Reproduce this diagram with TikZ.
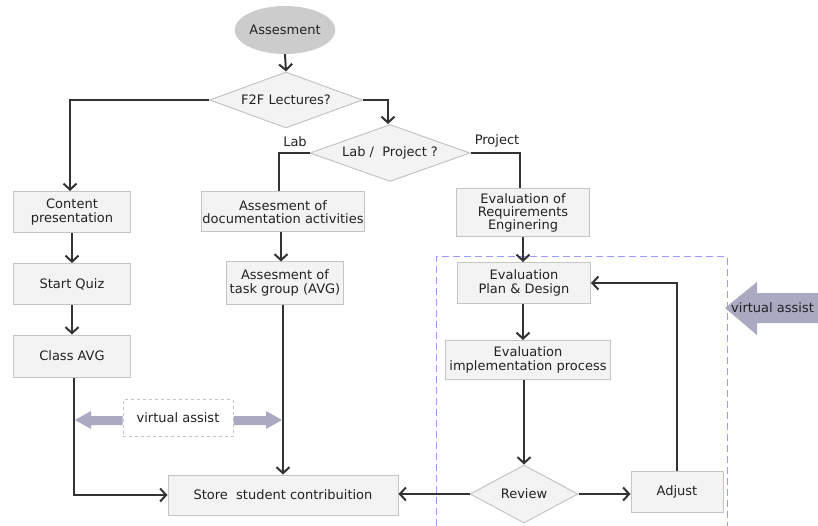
\documentclass[tikz,border=0pt]{standalone}
\usepackage{fontspec}
\setmainfont{DejaVu Sans}
\usetikzlibrary{shapes.geometric,arrows.meta,calc}
\definecolor{boxfill}{HTML}{F3F3F3}
\definecolor{boxline}{HTML}{C4C4C4}
\definecolor{lin}{HTML}{333333}
\definecolor{txt}{HTML}{222222}
\definecolor{vacol}{HTML}{A9A9C2}
\definecolor{dashblue}{HTML}{9A9AFF}
\definecolor{ellfill}{HTML}{CCCCCC}
\begin{document}
\begin{tikzpicture}[x=1pt,y=-1pt,
  font=\fontsize{13}{13.3}\selectfont, text=txt,
  box/.style={draw=boxline, fill=boxfill, line width=1pt, align=center, inner sep=0pt},
  dia/.style={diamond, draw=boxline, fill=boxfill, line width=1pt, align=center, inner sep=0pt},
  conn/.style={draw=lin, line width=2pt, -{Straight Barb[length=6pt,width=13pt]}},
  plain/.style={draw=lin, line width=2pt},
  lbl/.style={inner sep=0pt}
]
\useasboundingbox (0,0) rectangle (818,526);
\fill[white] (0,0) rectangle (818,526);

% dashed region
\draw[dashblue, line width=1pt, dash pattern=on 7pt off 4pt] (436,526) -- (436,257) -- (727,257) -- (727,526);

% nodes
\node[ellipse, fill=ellfill, minimum width=96pt, minimum height=48pt, inner sep=0pt] (ass) at (285,30) {Assesment};
\node[dia, aspect=2.8, minimum width=153pt, minimum height=56pt] (f2f) at (286,100) {F2F Lectures?};
\node[dia, aspect=2.8, minimum width=160pt, minimum height=57pt] (lp) at (390,153) {Lab /\ \ Project ?};
\node[lbl] (lablbl) at (295,142) {Lab};
\node[lbl] (projlbl) at (497,141) {Project};

\node[box, minimum width=117pt, minimum height=41pt] (content) at (72,212) {Content\\presentation};
\node[box, minimum width=117pt, minimum height=41pt] (quiz) at (72,284) {Start Quiz};
\node[box, minimum width=117pt, minimum height=42pt] (class) at (72,356) {Class AVG};

\node[box, minimum width=163pt, minimum height=40pt] (doc) at (283,212) {Assesment of\\documentation activities};
\node[box, minimum width=117pt, minimum height=42pt] (task) at (285,283) {Assesment of\\task group (AVG)};

\node[box, minimum width=133pt, minimum height=48pt] (req) at (523,213) {Evaluation of\\Requirements\\Enginering};
\node[box, minimum width=133pt, minimum height=41pt] (plan) at (524,283) {Evaluation\\Plan \& Design};
\node[box, minimum width=165pt, minimum height=39pt] (impl) at (528,360) {Evaluation\\implementation process};
\node[dia, aspect=1.9, minimum width=108pt, minimum height=58pt] (review) at (524,494) {Review};
\node[box, minimum width=92pt, minimum height=41pt] (adjust) at (677,492) {Adjust};
\node[box, minimum width=230pt, minimum height=40pt] (store) at (283,495) {Store\ \ student contribuition};

\node[draw=boxline, dashed, line width=1pt, minimum width=110pt, minimum height=37pt, inner sep=0pt] (va) at (178,418) {virtual assist};

% thick lavender arrows of the dashed box
\fill[vacol] (va.west |- 0,416) -- (91,416) -- (91,411) -- (75,420) -- (91,429) -- (91,425) -- (va.west |- 0,425) -- cycle;
\fill[vacol] (va.east |- 0,416) -- (266,416) -- (266,411) -- (282,420) -- (266,429) -- (266,425) -- (va.east |- 0,425) -- cycle;

% big right arrow
\fill[vacol] (818,293) -- (757,293) -- (757,282) -- (725,308) -- (757,335) -- (757,323) -- (818,323) -- cycle;
\node[lbl, anchor=west] (va2) at (731,308) {virtual assist};

% connectors
\draw[conn] (ass.south) -- (f2f.north);
\draw[conn] (f2f.west) -| ([xshift=-2pt]content.north);
\draw[conn] (f2f.east) -| ([xshift=-2pt]lp.north);
\draw[plain] (lp.west) -| ([xshift=-4pt]doc.north);
\draw[plain] (lp.east) -| ([xshift=-3pt]req.north);
\draw[conn] (content) -- (quiz);
\draw[conn] (quiz) -- (class);
\draw[conn] ([xshift=-2pt]doc.south) -- ([xshift=-2pt]doc.south |- task.north);
\draw[conn] ([xshift=-2pt]task.south) -- ([xshift=-2pt]task.south |- store.north);
\draw[conn] ([xshift=2pt]class.south) |- (store.west);
\draw[conn] (req.south) -- (req.south |- plan.north);
\draw[conn] ([xshift=-1pt]plan.south) -- ([xshift=-1pt]plan.south |- impl.north);
\draw[conn] (impl.south -| review.north) -- (review.north);
\draw[conn] (review.east) -- (review.east -| adjust.west);
\draw[conn] (review.west) -- (review.west -| store.east);
\draw[conn] (adjust.north) |- (plan.east);
\end{tikzpicture}
\end{document}
